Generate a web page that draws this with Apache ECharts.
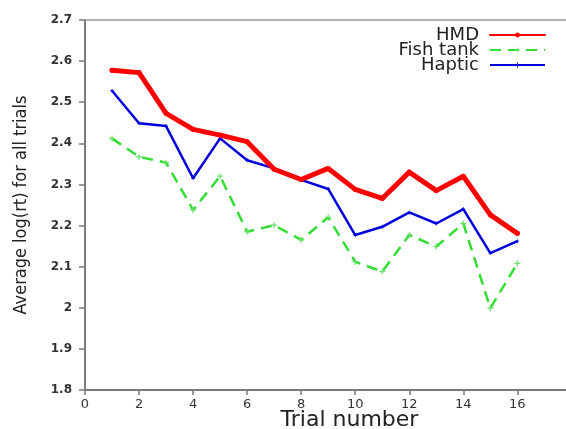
<!DOCTYPE html>
<html>
<head>
<meta charset="utf-8">
<script src="https://cdn.jsdelivr.net/npm/echarts@6/dist/echarts.min.js"></script>
<style>html,body{margin:0;padding:0;background:#fff;}#c{width:566px;height:429px;}</style>
</head>
<body>
<div id="c"></div>
<script>
const trials = [1,2,3,4,5,6,7,8,9,10,11,12,13,14,15,16];
const hmd = [2.578,2.572,2.473,2.434,2.420,2.404,2.337,2.312,2.339,2.288,2.266,2.330,2.285,2.320,2.226,2.181];
const fishTank = [2.412,2.367,2.353,2.238,2.320,2.185,2.201,2.165,2.220,2.112,2.088,2.177,2.149,2.205,1.999,2.108];
const haptic = [2.528,2.449,2.442,2.315,2.412,2.359,2.339,2.311,2.289,2.177,2.197,2.232,2.205,2.240,2.133,2.162];
const seriesNames = ['HMD','Fish tank','Haptic'];

const pair = (arr) => trials.map((t,i)=>[t,arr[i]]);
const plus = 'path://M4,0h2v4h4v2h-4v4h-2v-4h-4v-2h4z';
const axisColor = '#7a7a7a';

const chart = echarts.init(document.getElementById('c'));
chart.setOption({
  animation:false,
  backgroundColor:'#fff',
  grid:{left:85, right:0, top:20, bottom:39, outerBoundsMode:'none', containLabel:false},
  legend:{
    data:seriesNames, orient:'vertical', right:20, top:26, align:'right', padding:0,
    itemWidth:55, itemHeight:6, itemGap:-3,
    textStyle:{fontFamily:'DejaVu Sans', fontSize:18, color:'#222', padding:[0,6,0,0]}
  },
  xAxis:[{
    type:'value', min:0, max:17.8, interval:2,
    name:'Trial number', nameLocation:'middle', nameGap:30, nameMoveOverlap:false,
    nameTextStyle:{fontFamily:'DejaVu Sans', fontSize:22, color:'#222', padding:[0,0,0,48], verticalAlign:'middle'},
    axisLine:{show:true, lineStyle:{color:axisColor, width:2}},
    axisTick:{show:true, length:5, lineStyle:{color:axisColor, width:1.5}},
    axisLabel:{fontFamily:'DejaVu Sans', fontSize:13, color:'#333', margin:8, showMaxLabel:false,
      formatter:(v)=> v>16 ? '' : String(v)},
    splitLine:{show:false}
  },{
    type:'value', position:'top', min:0, max:17.8,
    axisLine:{show:true, lineStyle:{color:'#999', width:1.5}},
    axisTick:{show:false}, axisLabel:{show:false}, splitLine:{show:false}
  }],
  yAxis:{
    type:'value', min:1.8, max:2.7, interval:0.1,
    name:'Average log(rt) for all trials', nameLocation:'middle', nameGap:55,
    nameTextStyle:{fontFamily:'Liberation Sans Narrow, DejaVu Sans Condensed, sans-serif', fontSize:18, color:'#222'},
    axisLine:{show:true, lineStyle:{color:axisColor, width:2}},
    axisTick:{show:true, length:6, lineStyle:{color:axisColor, width:1.5}},
    axisLabel:{fontFamily:'DejaVu Sans', fontSize:12, color:'#333', margin:13, fontWeight:'bold',
      formatter:(v)=> String(Math.round(v*10)/10)},
    splitLine:{show:false}
  },
  series:[
    {name:'HMD', type:'line', data:pair(hmd), symbol:'circle', symbolSize:5,
      lineStyle:{color:'#ff0000', width:5, cap:'round', join:'round'}, itemStyle:{color:'#ff0000'}, z:3},
    {name:'Fish tank', type:'line', data:pair(fishTank), symbol:plus, symbolSize:6,
      lineStyle:{color:'#33dd33', width:2.5, type:[11,7]}, itemStyle:{color:'#66e066'}, z:1},
    {name:'Haptic', type:'line', data:pair(haptic), symbol:plus, symbolSize:4,
      lineStyle:{color:'#0000dd', width:2.5}, itemStyle:{color:'#0000dd'}, z:2}
  ]
});
</script>
</body>
</html>
